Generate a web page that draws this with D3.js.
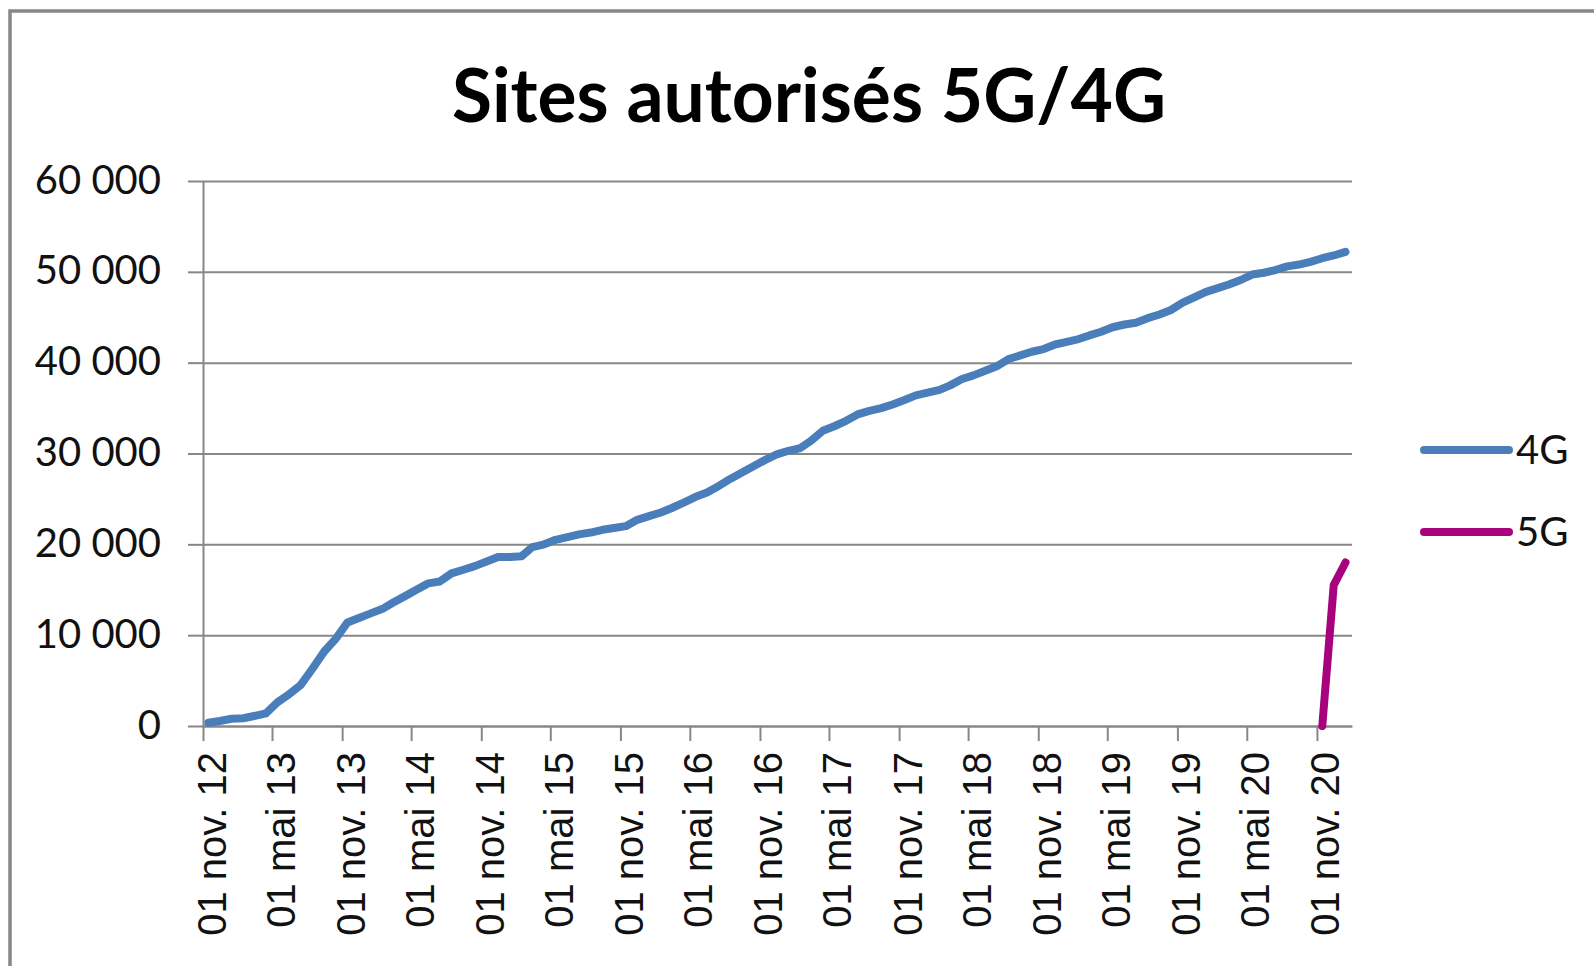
<!DOCTYPE html>
<html>
<head>
<meta charset="utf-8">
<script src="https://cdn.jsdelivr.net/npm/d3@7"></script>
<style>
  html, body { margin: 0; padding: 0; background: #fff; }
  svg { display: block; }
</style>
</head>
<body>
<div id="chart"></div>
<script>
// monthly readings (mid-month), starting nov. 2012
var firstMonth = new Date(2012, 10, 15);
var values4G = [350, 550, 800, 850, 1100, 1400, 2600, 3500, 4500, 6300,
    8200, 9600, 11400, 11900, 12400, 12900, 13600, 14300, 15000, 15700,
    15900, 16800, 17200, 17600, 18100, 18600, 18600, 18700, 19700, 20000,
    20500, 20800, 21100, 21300, 21600, 21800, 22000, 22700, 23100, 23500,
    24000, 24600, 25200, 25700, 26400, 27200, 27900, 28600, 29300, 29900,
    30300, 30600, 31400, 32500, 33000, 33600, 34300, 34700, 35000, 35400,
    35900, 36400, 36700, 37000, 37500, 38200, 38600, 39100, 39600, 40400,
    40800, 41200, 41500, 42000, 42300, 42600, 43000, 43400, 43900, 44200,
    44400, 44900, 45300, 45800, 46600, 47200, 47800, 48200, 48600, 49100,
    49700, 49900, 50200, 50600, 50800, 51100, 51500, 51800, 52200];
// 5G starts in nov. 2020
var first5G = new Date(2020, 10, 15);
var values5G = [0, 15500, 18000];

var seriesNames = ['4G', '5G'];
var seriesColors = ['#4a7ebb', '#a8037f'];
var yTicks = [0, 10000, 20000, 30000, 40000, 50000, 60000];
var xStart = new Date(2012, 10, 1), xEnd = new Date(2021, 1, 1);
var xTickEnd = new Date(2020, 11, 1);
var title = 'Sites autorisés 5G/4G';

var W = 1594, H = 966;
var margin = {top: 181, left: 203, right: 242, bottom: 240};

var fr = d3.timeFormatLocale({
    dateTime: '%A %e %B %Y à %X', date: '%d/%m/%Y', time: '%H:%M:%S',
    periods: ['AM', 'PM'],
    days: ['dimanche', 'lundi', 'mardi', 'mercredi', 'jeudi', 'vendredi', 'samedi'],
    shortDays: ['dim.', 'lun.', 'mar.', 'mer.', 'jeu.', 'ven.', 'sam.'],
    months: ['janvier', 'février', 'mars', 'avril', 'mai', 'juin', 'juillet', 'août', 'septembre', 'octobre', 'novembre', 'décembre'],
    shortMonths: ['janv.', 'févr.', 'mars', 'avr.', 'mai', 'juin', 'juil.', 'août', 'sept.', 'oct.', 'nov.', 'déc.']
});
var numFr = d3.formatLocale({decimal: ',', thousands: ' ', grouping: [3], currency: ['', ' €']});

var svg = d3.select('#chart').append('svg')
    .attr('width', W)
    .attr('height', H);

svg.append('rect')
    .attr('width', W).attr('height', H)
    .attr('fill', '#fff');

// chart frame (cut at right / bottom like the screenshot)
svg.append('rect')
    .attr('x', 10).attr('y', 11)
    .attr('width', W + 40).attr('height', H + 40)
    .attr('fill', 'none')
    .attr('stroke', '#878787')
    .attr('stroke-width', 3.5);

var x = d3.scaleTime()
    .domain([xStart, xEnd])
    .range([margin.left, W - margin.right]);
var y = d3.scaleLinear()
    .domain([0, 60000])
    .range([H - margin.bottom, margin.top]);

// gridlines
svg.append('g')
    .attr('transform', 'translate(' + margin.left + ',0)')
    .call(d3.axisLeft(y).tickValues(yTicks).tickSize(-(x.range()[1] - x.range()[0])).tickFormat(''))
    .call(g => g.select('.domain').remove())
    .selectAll('line')
        .attr('stroke', '#878787')
        .attr('stroke-width', 2);

// y axis
var yAxis = svg.append('g')
    .attr('transform', 'translate(' + margin.left + ',0)')
    .call(d3.axisLeft(y).tickValues(yTicks).tickSize(15).tickSizeOuter(0).tickPadding(27).tickFormat(numFr.format(',')));
yAxis.select('.domain').attr('stroke', '#878787').attr('stroke-width', 2);
yAxis.selectAll('line').attr('stroke', '#878787').attr('stroke-width', 2);
yAxis.selectAll('text')
    .style('font-family', 'Lato, sans-serif')
    .style('font-size', '40px')
    .attr('fill', '#111')
    .attr('dy', '0.3em');

// x axis
var xTicks = d3.timeMonth.range(xStart, xTickEnd, 6);
var xAxis = svg.append('g')
    .attr('transform', 'translate(0,' + y(0) + ')')
    .call(d3.axisBottom(x).tickValues(xTicks).tickSize(15).tickSizeOuter(0).tickFormat(fr.format('%d %b %y')));
xAxis.select('.domain').attr('stroke', '#878787').attr('stroke-width', 2);
xAxis.selectAll('line').attr('stroke', '#878787').attr('stroke-width', 2);
xAxis.selectAll('text')
    .style('font-family', '"Liberation Sans", Arial, sans-serif')
    .style('font-size', '40px')
    .attr('fill', '#111')
    .attr('text-anchor', 'end')
    .attr('transform', 'rotate(-90)')
    .attr('x', -26)
    .attr('y', 22)
    .attr('dy', 0);

// lines
var data4G = values4G.map((v, i) => ({date: d3.timeMonth.offset(firstMonth, i), value: v}));
var data5G = values5G.map((v, i) => ({date: d3.timeMonth.offset(first5G, i), value: v}));

var line = d3.line()
    .x(d => x(d.date))
    .y(d => y(d.value));

[data4G, data5G].forEach((data, i) => {
    svg.append('path')
        .attr('fill', 'none')
        .attr('stroke', seriesColors[i])
        .attr('stroke-width', 8)
        .attr('stroke-linejoin', 'round')
        .attr('stroke-linecap', 'round')
        .attr('d', line(data));
});

// legend
var legend = svg.append('g')
    .attr('transform', 'translate(1420,450)');
seriesNames.forEach((name, i) => {
    var row = legend.append('g').attr('transform', 'translate(0,' + (i * 82) + ')');
    row.append('line')
        .attr('x1', 4).attr('x2', 89)
        .attr('stroke', seriesColors[i])
        .attr('stroke-width', 8)
        .attr('stroke-linecap', 'round');
    row.append('text')
        .attr('x', 96)
        .attr('dy', '0.36em')
        .style('font-family', 'Lato, sans-serif')
        .style('font-size', '40px')
        .attr('fill', '#111')
        .text(name);
});

// title
svg.append('text')
    .attr('x', 809)
    .attr('y', 122)
    .attr('text-anchor', 'middle')
    .attr('textLength', 714)
    .attr('lengthAdjust', 'spacingAndGlyphs')
    .style('font-family', 'Lato, sans-serif')
    .style('font-weight', 'bold')
    .style('font-size', '74px')
    .attr('fill', '#000')
    .text(title);
</script>
</body>
</html>
